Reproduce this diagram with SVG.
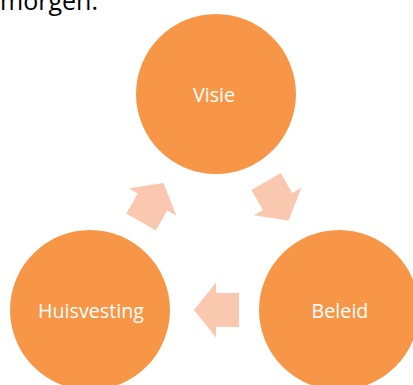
<svg xmlns="http://www.w3.org/2000/svg" width="413" height="385" viewBox="0 0 413 385">
  <defs>
    <style>
      .node { fill: #F79646; }
      .label { fill: #FFFFFF; font-family: "Open Sans", "Noto Sans", sans-serif; font-size: 19.7px; text-anchor: middle; }
      .flow { fill: #FAC8AF; }
      .body { fill: #000000; font-family: "Open Sans", "Noto Sans", sans-serif; font-size: 25px; }
    </style>
    <!-- block arrow pointing along +x, centred on the origin -->
    <path id="blockArrow" d="M22.5,0 L0.5,-27.5 L0.5,-17 L-22.5,-17 L-22.5,17 L0.5,17 L0.5,27.5 Z"/>
  </defs>

  <rect width="413" height="385" fill="#FFFFFF"/>

  <text class="body" x="0" y="10" textLength="98" lengthAdjust="spacingAndGlyphs">morgen.</text>

  <g id="connectors">
    <use href="#blockArrow" class="flow" transform="translate(277.3,201) rotate(60)"/>
    <use href="#blockArrow" class="flow" transform="translate(216.5,310) rotate(180)"/>
    <use href="#blockArrow" class="flow" transform="translate(152.3,202.5) rotate(-60)"/>
  </g>

  <g id="visie">
    <circle class="node" cx="216" cy="94" r="80"/>
    <text class="label" x="214" y="101.7">Visie</text>
  </g>

  <g id="beleid">
    <circle class="node" cx="339" cy="310" r="80"/>
    <text class="label" x="340" y="317.7">Beleid</text>
  </g>

  <g id="huisvesting">
    <circle class="node" cx="90" cy="310" r="80"/>
    <text class="label" x="91" y="317.7">Huisvesting</text>
  </g>
</svg>
